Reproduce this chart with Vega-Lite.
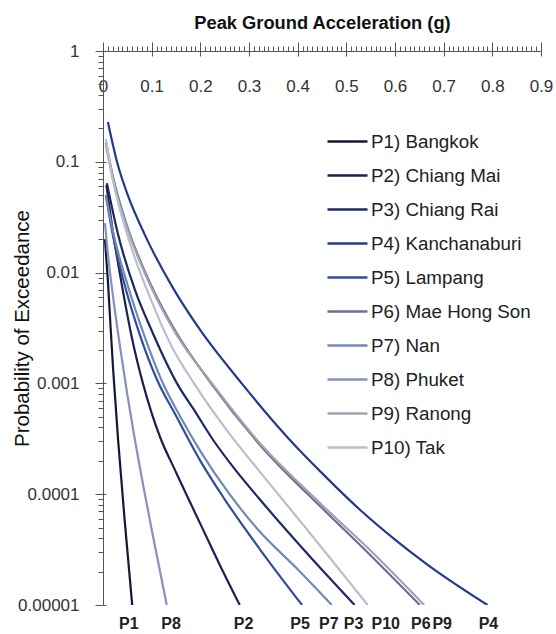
{
  "$schema": "https://vega.github.io/schema/vega-lite/v6.json",
  "width": 438,
  "height": 554,
  "autosize": {"type": "none"},
  "padding": {"left": 103, "top": 51, "right": 15, "bottom": 29},
  "background": "white",
  "config": {"font": "Liberation Sans", "view": {"stroke": null}},
  "datasets": {
    "curves": [
      {"site": "P1) Bangkok", "pga": 0.004, "poe": 0.02},
      {"site": "P1) Bangkok", "pga": 0.01, "poe": 0.0085},
      {"site": "P1) Bangkok", "pga": 0.016, "poe": 0.003},
      {"site": "P1) Bangkok", "pga": 0.021, "poe": 0.0013},
      {"site": "P1) Bangkok", "pga": 0.031, "poe": 0.00031},
      {"site": "P1) Bangkok", "pga": 0.045, "poe": 0.000055},
      {"site": "P1) Bangkok", "pga": 0.06, "poe": 0.00001},

      {"site": "P2) Chiang Mai", "pga": 0.007, "poe": 0.062},
      {"site": "P2) Chiang Mai", "pga": 0.02, "poe": 0.024},
      {"site": "P2) Chiang Mai", "pga": 0.04, "poe": 0.0072},
      {"site": "P2) Chiang Mai", "pga": 0.06, "poe": 0.0025},
      {"site": "P2) Chiang Mai", "pga": 0.082, "poe": 0.001},
      {"site": "P2) Chiang Mai", "pga": 0.1, "poe": 0.00054},
      {"site": "P2) Chiang Mai", "pga": 0.117, "poe": 0.00033},
      {"site": "P2) Chiang Mai", "pga": 0.15, "poe": 0.000158},
      {"site": "P2) Chiang Mai", "pga": 0.2, "poe": 0.000054},
      {"site": "P2) Chiang Mai", "pga": 0.24, "poe": 0.000023},
      {"site": "P2) Chiang Mai", "pga": 0.281, "poe": 0.00001},

      {"site": "P3) Chiang Rai", "pga": 0.008, "poe": 0.064},
      {"site": "P3) Chiang Rai", "pga": 0.03, "poe": 0.023},
      {"site": "P3) Chiang Rai", "pga": 0.066, "poe": 0.0069},
      {"site": "P3) Chiang Rai", "pga": 0.1, "poe": 0.003},
      {"site": "P3) Chiang Rai", "pga": 0.152, "poe": 0.001},
      {"site": "P3) Chiang Rai", "pga": 0.19, "poe": 0.00055},
      {"site": "P3) Chiang Rai", "pga": 0.226, "poe": 0.00031},
      {"site": "P3) Chiang Rai", "pga": 0.27, "poe": 0.00017},
      {"site": "P3) Chiang Rai", "pga": 0.322, "poe": 0.00009},
      {"site": "P3) Chiang Rai", "pga": 0.42, "poe": 0.000029},
      {"site": "P3) Chiang Rai", "pga": 0.517, "poe": 0.00001},

      {"site": "P4) Kanchanaburi", "pga": 0.01, "poe": 0.229},
      {"site": "P4) Kanchanaburi", "pga": 0.03, "poe": 0.0955},
      {"site": "P4) Kanchanaburi", "pga": 0.05, "poe": 0.0513},
      {"site": "P4) Kanchanaburi", "pga": 0.086, "poe": 0.0219},
      {"site": "P4) Kanchanaburi", "pga": 0.144, "poe": 0.00724},
      {"site": "P4) Kanchanaburi", "pga": 0.2, "poe": 0.00302},
      {"site": "P4) Kanchanaburi", "pga": 0.285, "poe": 0.001},
      {"site": "P4) Kanchanaburi", "pga": 0.384, "poe": 0.000309},
      {"site": "P4) Kanchanaburi", "pga": 0.45, "poe": 0.000155},
      {"site": "P4) Kanchanaburi", "pga": 0.528, "poe": 0.0000724},
      {"site": "P4) Kanchanaburi", "pga": 0.6, "poe": 0.0000389},
      {"site": "P4) Kanchanaburi", "pga": 0.665, "poe": 0.0000234},
      {"site": "P4) Kanchanaburi", "pga": 0.79, "poe": 0.00001},

      {"site": "P5) Lampang", "pga": 0.006, "poe": 0.05},
      {"site": "P5) Lampang", "pga": 0.02, "poe": 0.022},
      {"site": "P5) Lampang", "pga": 0.045, "poe": 0.0076},
      {"site": "P5) Lampang", "pga": 0.075, "poe": 0.0028},
      {"site": "P5) Lampang", "pga": 0.111, "poe": 0.00108},
      {"site": "P5) Lampang", "pga": 0.15, "poe": 0.00051},
      {"site": "P5) Lampang", "pga": 0.2, "poe": 0.0002},
      {"site": "P5) Lampang", "pga": 0.25, "poe": 0.00009},
      {"site": "P5) Lampang", "pga": 0.322, "poe": 0.000032},
      {"site": "P5) Lampang", "pga": 0.409, "poe": 0.00001},

      {"site": "P6) Mae Hong Son", "pga": 0.006, "poe": 0.15},
      {"site": "P6) Mae Hong Son", "pga": 0.02, "poe": 0.075},
      {"site": "P6) Mae Hong Son", "pga": 0.05, "poe": 0.026},
      {"site": "P6) Mae Hong Son", "pga": 0.1, "poe": 0.0075},
      {"site": "P6) Mae Hong Son", "pga": 0.15, "poe": 0.0029},
      {"site": "P6) Mae Hong Son", "pga": 0.222, "poe": 0.001},
      {"site": "P6) Mae Hong Son", "pga": 0.322, "poe": 0.00028},
      {"site": "P6) Mae Hong Son", "pga": 0.45, "poe": 0.000075},
      {"site": "P6) Mae Hong Son", "pga": 0.55, "poe": 0.000028},
      {"site": "P6) Mae Hong Son", "pga": 0.651, "poe": 0.00001},

      {"site": "P7) Nan", "pga": 0.006, "poe": 0.05},
      {"site": "P7) Nan", "pga": 0.02, "poe": 0.024},
      {"site": "P7) Nan", "pga": 0.05, "poe": 0.0079},
      {"site": "P7) Nan", "pga": 0.08, "poe": 0.0031},
      {"site": "P7) Nan", "pga": 0.121, "poe": 0.00105},
      {"site": "P7) Nan", "pga": 0.16, "poe": 0.00049},
      {"site": "P7) Nan", "pga": 0.2, "poe": 0.000245},
      {"site": "P7) Nan", "pga": 0.26, "poe": 0.0001},
      {"site": "P7) Nan", "pga": 0.322, "poe": 0.000046},
      {"site": "P7) Nan", "pga": 0.4, "poe": 0.000021},
      {"site": "P7) Nan", "pga": 0.47, "poe": 0.00001},

      {"site": "P8) Phuket", "pga": 0.004, "poe": 0.028},
      {"site": "P8) Phuket", "pga": 0.01, "poe": 0.0148},
      {"site": "P8) Phuket", "pga": 0.021, "poe": 0.0059},
      {"site": "P8) Phuket", "pga": 0.035, "poe": 0.00214},
      {"site": "P8) Phuket", "pga": 0.05, "poe": 0.00079},
      {"site": "P8) Phuket", "pga": 0.065, "poe": 0.00032},
      {"site": "P8) Phuket", "pga": 0.08, "poe": 0.000138},
      {"site": "P8) Phuket", "pga": 0.1, "poe": 0.000048},
      {"site": "P8) Phuket", "pga": 0.131, "poe": 0.00001},

      {"site": "P9) Ranong", "pga": 0.006, "poe": 0.14},
      {"site": "P9) Ranong", "pga": 0.02, "poe": 0.07},
      {"site": "P9) Ranong", "pga": 0.05, "poe": 0.025},
      {"site": "P9) Ranong", "pga": 0.1, "poe": 0.0072},
      {"site": "P9) Ranong", "pga": 0.15, "poe": 0.0028},
      {"site": "P9) Ranong", "pga": 0.224, "poe": 0.001},
      {"site": "P9) Ranong", "pga": 0.322, "poe": 0.00029},
      {"site": "P9) Ranong", "pga": 0.45, "poe": 0.00008},
      {"site": "P9) Ranong", "pga": 0.56, "poe": 0.000028},
      {"site": "P9) Ranong", "pga": 0.66, "poe": 0.00001},

      {"site": "P10) Tak", "pga": 0.006, "poe": 0.16},
      {"site": "P10) Tak", "pga": 0.02, "poe": 0.07},
      {"site": "P10) Tak", "pga": 0.05, "poe": 0.022},
      {"site": "P10) Tak", "pga": 0.1, "poe": 0.0055},
      {"site": "P10) Tak", "pga": 0.14, "poe": 0.0022},
      {"site": "P10) Tak", "pga": 0.187, "poe": 0.001},
      {"site": "P10) Tak", "pga": 0.26, "poe": 0.00035},
      {"site": "P10) Tak", "pga": 0.322, "poe": 0.00016},
      {"site": "P10) Tak", "pga": 0.43, "poe": 0.000042},
      {"site": "P10) Tak", "pga": 0.544, "poe": 0.00001}
    ],
    "labels": [
      {"tag": "P1", "lx": 0.053},
      {"tag": "P8", "lx": 0.14},
      {"tag": "P2", "lx": 0.289},
      {"tag": "P5", "lx": 0.405},
      {"tag": "P7", "lx": 0.464},
      {"tag": "P3", "lx": 0.515},
      {"tag": "P10", "lx": 0.581},
      {"tag": "P6", "lx": 0.653},
      {"tag": "P9", "lx": 0.697},
      {"tag": "P4", "lx": 0.792}
    ]
  },
  "resolve": {"axis": {"x": "independent", "y": "independent"}},
  "layer": [
    {
      "data": {"name": "curves"},
      "mark": {"type": "line", "strokeWidth": 2.2, "interpolate": "monotone", "clip": true},
      "encoding": {
        "x": {
          "field": "pga", "type": "quantitative",
          "title": "Peak Ground Acceleration (g)",
          "scale": {"domain": [0, 0.9], "nice": false, "zero": false},
          "axis": {
            "orient": "top",
            "grid": false,
            "values": [0, 0.1, 0.2, 0.3, 0.4, 0.5, 0.6, 0.7, 0.8, 0.9],
            "format": ".1~f",
            "tickSize": 9,
            "labelPadding": -36,
            "labelBaseline": "top",
            "labelFontSize": 17,
            "labelColor": "#333333",
            "labelFlush": false,
            "labelOverlap": false,
            "domainColor": "#555555",
            "tickColor": "#555555",
            "titleFontSize": 18.3,
            "titleFontWeight": "bold",
            "titleColor": "#111111",
            "titleBaseline": "alphabetic",
            "titleY": -23
          }
        },
        "y": {
          "field": "poe", "type": "quantitative",
          "title": "Probability of Exceedance",
          "scale": {"type": "log", "domain": [0.00001, 1]},
          "axis": {
            "orient": "left",
            "grid": false,
            "values": [1, 0.1, 0.01, 0.001, 0.0001, 0.00001],
            "labelExpr": "datum.value == 1 ? '1' : datum.value == 0.1 ? '0.1' : datum.value == 0.01 ? '0.01' : datum.value == 0.001 ? '0.001' : datum.value == 0.0001 ? '0.0001' : '0.00001'",
            "tickSize": 8,
            "labelFontSize": 17,
            "labelPadding": 16,
            "labelColor": "#333333",
            "labelOverlap": false,
            "labelFlush": false,
            "domainColor": "#555555",
            "tickColor": "#555555",
            "titleFontSize": 20.5,
            "titleFontWeight": "normal",
            "titleColor": "#111111",
            "titleAngle": -90,
            "titleAlign": "center",
            "titleBaseline": "middle",
            "titleX": -81,
            "titleY": 277
          }
        },
        "color": {
          "field": "site", "type": "nominal",
          "scale": {
            "domain": ["P1) Bangkok", "P2) Chiang Mai", "P3) Chiang Rai", "P4) Kanchanaburi", "P5) Lampang", "P6) Mae Hong Son", "P7) Nan", "P8) Phuket", "P9) Ranong", "P10) Tak"],
            "range": ["#111a33", "#1b2152", "#1e2862", "#243a8c", "#2f4f9c", "#6b7090", "#7189b8", "#8a8fc2", "#a0a4b0", "#babecd"]
          },
          "legend": {
            "orient": "none",
            "legendX": 223,
            "legendY": 69,
            "title": null,
            "symbolType": "stroke",
            "symbolSize": 1600,
            "symbolStrokeWidth": 2.5,
            "labelFontSize": 18.8,
            "labelColor": "#222222",
            "labelOffset": 2,
            "rowPadding": 2
          }
        }
      }
    },
    {
      "data": {"name": "labels"},
      "mark": {"type": "text", "fontWeight": "bold", "fontSize": 16, "dy": 19, "color": "#222222"},
      "encoding": {
        "x": {
          "field": "lx", "type": "quantitative",
          "axis": {
            "orient": "top",
            "title": null,
            "grid": false,
            "labels": false,
            "domain": false,
            "tickSize": 5,
            "tickColor": "#555555",
            "values": [0.01,0.02,0.03,0.04,0.05,0.06,0.07,0.08,0.09,0.11,0.12,0.13,0.14,0.15,0.16,0.17,0.18,0.19,0.21,0.22,0.23,0.24,0.25,0.26,0.27,0.28,0.29,0.31,0.32,0.33,0.34,0.35,0.36,0.37,0.38,0.39,0.41,0.42,0.43,0.44,0.45,0.46,0.47,0.48,0.49,0.51,0.52,0.53,0.54,0.55,0.56,0.57,0.58,0.59,0.61,0.62,0.63,0.64,0.65,0.66,0.67,0.68,0.69,0.71,0.72,0.73,0.74,0.75,0.76,0.77,0.78,0.79,0.81,0.82,0.83,0.84,0.85,0.86,0.87,0.88,0.89]
          }
        },
        "y": {
          "datum": 0.00001,
          "axis": {
            "orient": "left",
            "title": null,
            "grid": false,
            "labels": false,
            "domain": false,
            "tickSize": 5,
            "tickColor": "#555555",
            "values": [0.9,0.8,0.7,0.6,0.5,0.4,0.3,0.2,0.09,0.08,0.07,0.06,0.05,0.04,0.03,0.02,0.009,0.008,0.007,0.006,0.005,0.004,0.003,0.002,0.0009,0.0008,0.0007,0.0006,0.0005,0.0004,0.0003,0.0002,0.00009,0.00008,0.00007,0.00006,0.00005,0.00004,0.00003,0.00002]
          }
        },
        "text": {"field": "tag"}
      }
    },
    {
      "data": {"name": "labels"},
      "mark": {"type": "text", "opacity": 0},
      "encoding": {
        "x": {
          "field": "lx", "type": "quantitative",
          "axis": {
            "orient": "top",
            "title": null,
            "grid": false,
            "labels": false,
            "domain": false,
            "tickSize": -5,
            "tickColor": "#555555",
            "values": [0, 0.1, 0.2, 0.3, 0.4, 0.5, 0.6, 0.7, 0.8, 0.9]
          }
        },
        "y": {
          "datum": 0.00001,
          "axis": {
            "orient": "left",
            "title": null,
            "grid": false,
            "labels": false,
            "domain": false,
            "tickSize": -3,
            "tickColor": "#555555",
            "values": [1, 0.1, 0.01, 0.001, 0.0001, 0.00001]
          }
        },
        "text": {"field": "tag"}
      }
    }
  ]
}
